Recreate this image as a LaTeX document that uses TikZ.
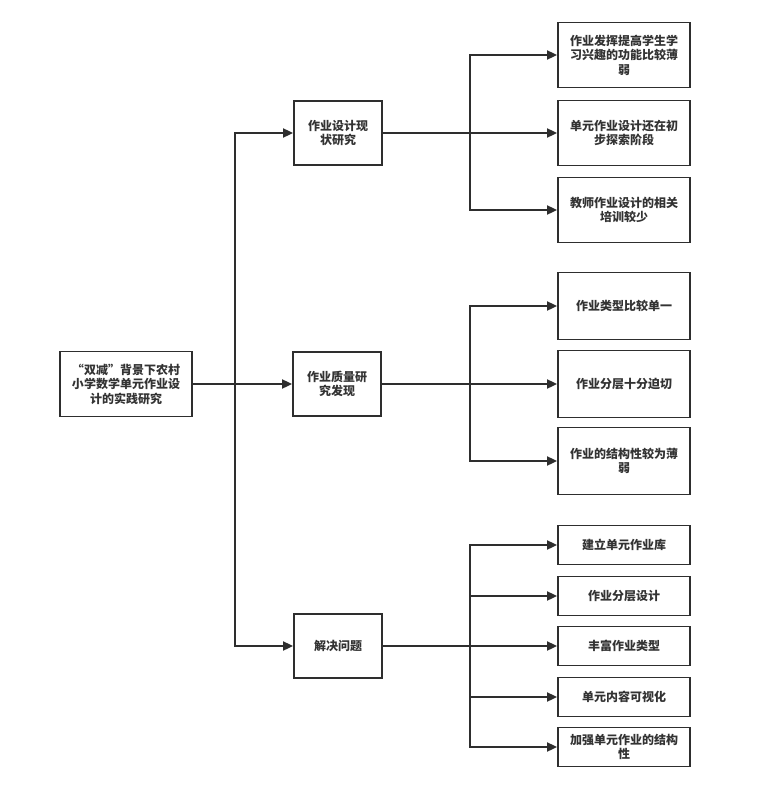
\documentclass[tikz,border=0pt]{standalone}
\usepackage{fontspec}
\setmainfont{Noto Sans CJK SC}
\usetikzlibrary{arrows.meta}
\definecolor{linec}{HTML}{2E2E2E}
\definecolor{textc}{HTML}{333333}
\begin{document}
\begin{tikzpicture}[x=1bp,y=-1bp,
  box/.style={draw=linec, line width=1.8bp, align=center, inner sep=0pt, text=textc,
    font=\fontsize{12bp}{14.5bp}\selectfont\bfseries},
  mid/.style={box, minimum width=88bp, minimum height=64bp},
  rb/.style={box, minimum width=132bp},
  arr/.style={draw=linec, line width=1.8bp, -{Triangle[length=10bp,width=9bp]}}]
\useasboundingbox[fill=white] (0,0) rectangle (768,796);

\node[box, minimum width=132bp, minimum height=65bp] (root) at (126,384) {“双减”背景下农村\\小学数学单元作业设\\计的实践研究};

\node[mid] (m1) at (338,133) {作业设计现\\状研究};
\node[mid] (m2) at (337,384) {作业质量研\\究发现};
\node[mid] (m3) at (338,646) {解决问题};

\node[rb, minimum height=65bp] (a1) at (624,55) {作业发挥提高学生学\\习兴趣的功能比较薄\\弱};
\node[rb, minimum height=65bp] (a2) at (624,133) {单元作业设计还在初\\步探索阶段};
\node[rb, minimum height=65bp] (a3) at (624,210) {教师作业设计的相关\\培训较少};

\node[rb, minimum height=67bp] (b1) at (624,306) {作业类型比较单一};
\node[rb, minimum height=67bp] (b2) at (624,384) {作业分层十分迫切};
\node[rb, minimum height=67bp] (b3) at (624,461) {作业的结构性较为薄\\弱};

\node[rb, minimum height=39bp] (c1) at (624,545) {建立单元作业库};
\node[rb, minimum height=39bp] (c2) at (624,596) {作业分层设计};
\node[rb, minimum height=39bp] (c3) at (624,646) {丰富作业类型};
\node[rb, minimum height=39bp] (c4) at (624,697) {单元内容可视化};
\node[rb, minimum height=39bp] (c5) at (624,747) {加强单元作业的结构\\性};

\coordinate (t) at (235,384);
\draw[arr] (root) -- (m2);
\draw[arr] (t) |- (m1);
\draw[arr] (t) |- (m3);

\coordinate (ja) at (470,133);
\draw[arr] (m1) -- (a2);
\draw[arr] (ja) |- (a1);
\draw[arr] (ja) |- (a3);

\coordinate (jb) at (470,384);
\draw[arr] (m2) -- (b2);
\draw[arr] (jb) |- (b1);
\draw[arr] (jb) |- (b3);

\coordinate (jc) at (470,646);
\draw[arr] (m3) -- (c3);
\draw[arr] (jc) |- (c1);
\draw[arr] (jc) |- (c2);
\draw[arr] (jc) |- (c4);
\draw[arr] (jc) |- (c5);
\end{tikzpicture}
\end{document}
